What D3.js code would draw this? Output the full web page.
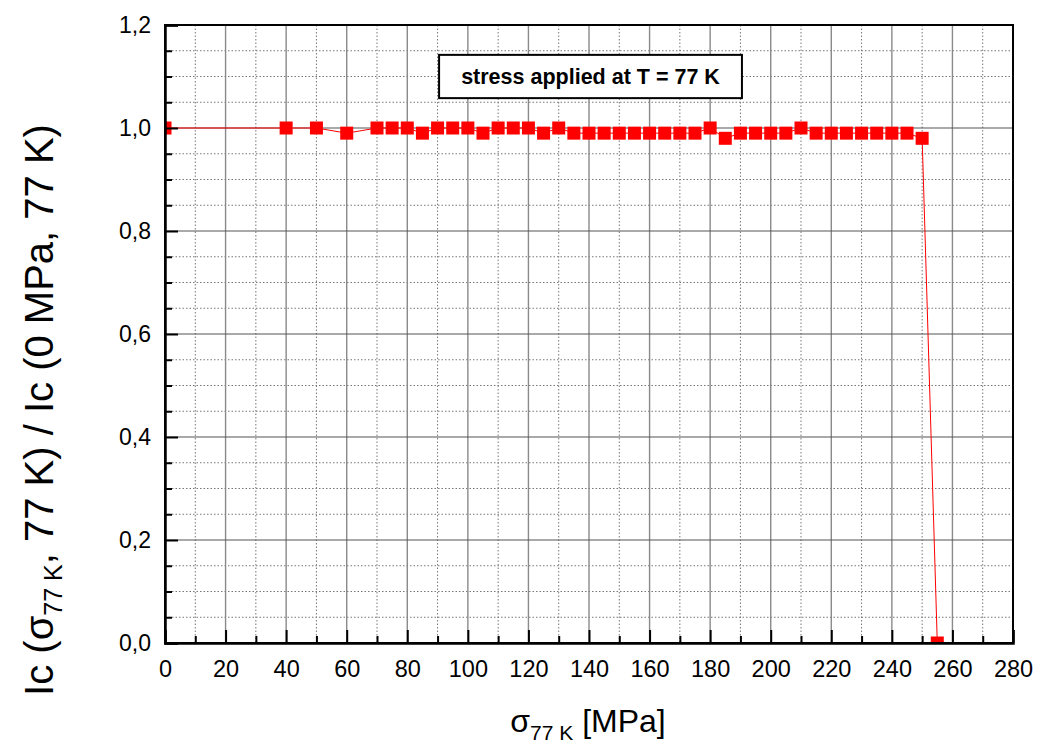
<!DOCTYPE html>
<html>
<head>
<meta charset="utf-8">
<script src="https://cdn.jsdelivr.net/npm/d3@7/dist/d3.min.js"></script>
<style>
  html, body { margin: 0; padding: 0; background: #fff; }
  svg { display: block; font-family: "Liberation Sans", Arial, sans-serif; }
</style>
</head>
<body>
<svg id="chart" width="1039" height="744"></svg>
<script>
// ---- data ----
const stress = [0, 40, 50, 60, 70, 75, 80, 85, 90, 95, 100, 105, 110, 115, 120, 125, 130, 135,
  140, 145, 150, 155, 160, 165, 170, 175, 180, 185, 190, 195, 200, 205, 210, 215, 220, 225,
  230, 235, 240, 245, 250, 255];
const icRatio = [1.00, 1.00, 1.00, 0.99, 1.00, 1.00, 1.00, 0.99, 1.00, 1.00, 1.00, 0.99, 1.00, 1.00, 1.00, 0.99, 1.00, 0.99,
  0.99, 0.99, 0.99, 0.99, 0.99, 0.99, 0.99, 0.99, 1.00, 0.98, 0.99, 0.99, 0.99, 0.99, 1.00, 0.99, 0.99, 0.99,
  0.99, 0.99, 0.99, 0.99, 0.98, 0.00];
const xTicks = [0, 20, 40, 60, 80, 100, 120, 140, 160, 180, 200, 220, 240, 260, 280];
const yTicks = [0, 0.2, 0.4, 0.6, 0.8, 1.0, 1.2];
const annotation = "stress applied at T = 77 K";

// ---- layout ----
const W = 1039, H = 744;
const m = { left: 165, right: 26, top: 25, bottom: 101 };
const pw = W - m.left - m.right, ph = H - m.top - m.bottom;

const svg = d3.select("#chart");
const g = svg.append("g").attr("transform", `translate(${m.left},${m.top})`);

const x = d3.scaleLinear().domain([0, 280]).range([0, pw]);
const y = d3.scaleLinear().domain([0, 1.2]).range([ph, 0]);

// grid
const xMinor = d3.range(10, 280, 20);
const xMajor = d3.range(20, 280, 20);
const yMajor = [0.2, 0.4, 0.6, 0.8, 1.0];
const yMinor = d3.range(1, 24).filter(k => k % 4 !== 0).map(k => k * 0.05);

g.selectAll(".vminor").data(xMinor).enter().append("line")
  .attr("x1", d => x(d)).attr("x2", d => x(d)).attr("y1", 0).attr("y2", ph)
  .attr("stroke", "#777").attr("stroke-width", 1).attr("stroke-dasharray", "1.5,2");
g.selectAll(".hminor").data(yMinor).enter().append("line")
  .attr("x1", 0).attr("x2", pw).attr("y1", d => y(d)).attr("y2", d => y(d))
  .attr("stroke", "#777").attr("stroke-width", 1).attr("stroke-dasharray", "1.5,2");
g.selectAll(".vmajor").data(xMajor).enter().append("line")
  .attr("x1", d => x(d)).attr("x2", d => x(d)).attr("y1", 0).attr("y2", ph)
  .attr("stroke", "#8a8a8a").attr("stroke-width", 1.4);
g.selectAll(".hmajor").data(yMajor).enter().append("line")
  .attr("x1", 0).attr("x2", pw).attr("y1", d => y(d)).attr("y2", d => y(d))
  .attr("stroke", "#555").attr("stroke-width", 1.1);

// data
const clip = svg.append("defs").append("clipPath").attr("id", "clip");
clip.append("rect").attr("x", 0).attr("y", 0).attr("width", pw).attr("height", ph);
const pts = stress.map((s, i) => [s, icRatio[i]]);
const dg = g.append("g").attr("clip-path", "url(#clip)");
dg.append("path").datum(pts)
  .attr("d", d3.line().x(d => x(d[0])).y(d => y(d[1])))
  .attr("fill", "none").attr("stroke", "#ff0000").attr("stroke-width", 1);
const sz = 13;
dg.selectAll("rect.pt").data(pts).enter().append("rect")
  .attr("x", d => x(d[0]) - sz / 2).attr("y", d => y(d[1]) - sz / 2)
  .attr("width", sz).attr("height", sz).attr("fill", "#ff0000");

// frame
g.append("rect").attr("x", 0).attr("y", 0).attr("width", pw).attr("height", ph)
  .attr("fill", "none").attr("stroke", "#000").attr("stroke-width", 2);

// axes with inward ticks
const xAx = g.append("g").attr("transform", `translate(0,${ph})`)
  .call(d3.axisBottom(x).tickValues(xTicks).tickSize(-13).tickFormat(d3.format("d")).tickPadding(0));
xAx.select(".domain").attr("stroke-width", 2.5);
xAx.selectAll(".tick line").attr("stroke-width", 2);
xAx.selectAll(".tick text").attr("font-size", 23.5).attr("fill", "#000")
  .attr("dy", 0).attr("y", 34).attr("font-family", "Liberation Sans, Arial, sans-serif");
const xAxMinor = g.append("g").attr("transform", `translate(0,${ph})`)
  .call(d3.axisBottom(x).tickValues(xMinor).tickSize(-7).tickFormat(""));
xAxMinor.select(".domain").remove();
xAxMinor.selectAll(".tick line").attr("stroke-width", 2);

const comma = d3.format(".1f");
const yAx = g.append("g")
  .call(d3.axisLeft(y).tickValues(yTicks).tickSize(-13).tickFormat(d => comma(d).replace(".", ",")).tickPadding(0));
yAx.select(".domain").attr("stroke-width", 2.5);
yAx.selectAll(".tick line").attr("stroke-width", 2);
yAx.selectAll(".tick text").attr("font-size", 23).attr("fill", "#000")
  .attr("x", -14).attr("font-family", "Liberation Sans, Arial, sans-serif");
const yAxMinor = g.append("g")
  .call(d3.axisLeft(y).tickValues(yMinor).tickSize(-7).tickFormat(""));
yAxMinor.select(".domain").remove();
yAxMinor.selectAll(".tick line").attr("stroke-width", 2);

// annotation box
const bx0 = x(90.5), bx1 = x(190.5);
g.append("rect").attr("x", bx0).attr("y", y(1.142)).attr("width", bx1 - bx0).attr("height", y(1.058) - y(1.142))
  .attr("fill", "#fff").attr("stroke", "#000").attr("stroke-width", 2);
g.append("text").attr("x", (bx0 + bx1) / 2).attr("y", y(1.1)).attr("dy", "0.35em")
  .attr("text-anchor", "middle").attr("font-weight", "bold").attr("font-size", 21.5)
  .text(annotation);

// axis titles
const xt = svg.append("text").attr("x", m.left + pw / 2 - 1).attr("y", 732)
  .attr("text-anchor", "middle").attr("font-size", 32);
xt.append("tspan").text("σ");
xt.append("tspan").attr("font-size", 21).attr("dy", 8).text("77 K");
xt.append("tspan").attr("dy", -8).text(" [MPa]");

const yt = svg.append("text").attr("transform", "translate(53,410) rotate(-90)")
  .attr("text-anchor", "middle").attr("font-size", 40);
yt.append("tspan").text("Ic (σ");
yt.append("tspan").attr("font-size", 25).attr("dy", 9).text("77 K");
yt.append("tspan").attr("dy", -9).text(", 77 K) / Ic (0 MPa, 77 K)");
</script>
</body>
</html>
